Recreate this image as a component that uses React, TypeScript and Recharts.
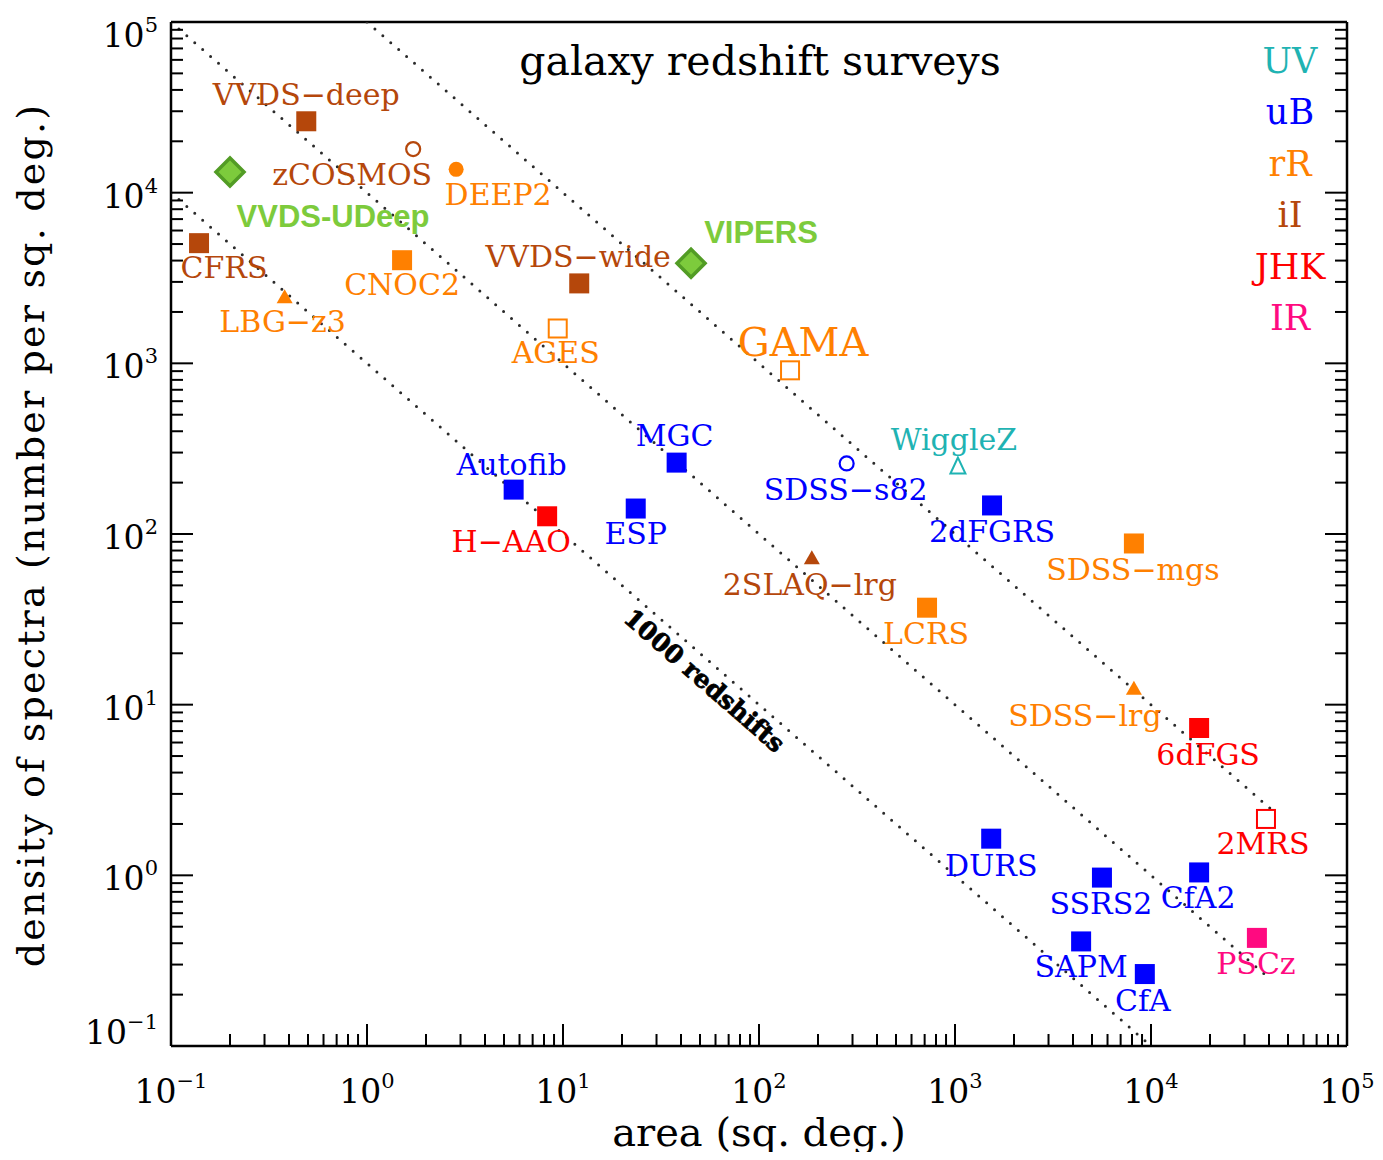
import React from 'react';
import { ScatterChart, Scatter, XAxis, YAxis } from 'recharts';

const SERIF = '"DejaVu Serif", serif';
const SANS = '"Liberation Sans", Arial, sans-serif';

// surveys: area (sq. deg.) and density (spectra per sq. deg.)
const surveyNames = [
  'VVDS−deep', 'zCOSMOS', 'DEEP2', 'VVDS-UDeep', 'CFRS', 'CNOC2', 'LBG−z3', 'VVDS−wide',
  'VIPERS', 'AGES', 'GAMA', 'MGC', 'Autofib', 'H−AAO', 'ESP', 'SDSS−s82', 'WiggleZ',
  '2dFGRS', 'SDSS−mgs', '2SLAQ−lrg', 'LCRS', 'SDSS−lrg', '6dFGS', '2MRS', 'DURS',
  'SSRS2', 'CfA2', 'SAPM', 'CfA', 'PSCz',
];
const surveyAreas = [
  0.49, 1.72, 2.85, 0.2, 0.139, 1.51, 0.38, 12.1,
  45, 9.4, 144, 38, 5.6, 8.3, 23.5, 280, 1035,
  1545, 8180, 186, 720, 8180, 17600, 38600, 1530,
  5620, 17600, 4400, 9300, 34700,
];
const surveyDensities = [
  26200, 18000, 13700, 13200, 5060, 4020, 2440, 2940,
  3860, 1600, 910, 262, 182, 127, 141, 259, 252,
  147, 88, 72, 37, 12.4, 7.3, 2.14, 1.64,
  0.97, 1.04, 0.41, 0.264, 0.43,
];
const surveyBands = [
  'iI', 'iI', 'rR', 'new', 'iI', 'rR', 'rR', 'iI',
  'new', 'rR', 'rR', 'uB', 'uB', 'JHK', 'uB', 'uB', 'UV',
  'uB', 'rR', 'iI', 'rR', 'rR', 'JHK', 'JHK', 'uB',
  'uB', 'uB', 'uB', 'uB', 'IR',
];
const surveyMarkers = [
  'square', 'openCircle', 'circle', 'diamond', 'square', 'square', 'triangle', 'square',
  'diamond', 'openSquare', 'openSquare', 'square', 'square', 'square', 'square', 'openCircle', 'openTriangle',
  'square', 'square', 'triangle', 'square', 'triangle', 'square', 'openSquare', 'square',
  'square', 'square', 'square', 'square', 'square',
];

// lines of constant number of redshifts (area x density)
const isoCounts = [1e3, 1e4, 1e5];
const isoFromArea = [0.1, 0.1, 1];
const isoToArea = [1e4, 41253, 41253];

const legendBands = ['UV', 'uB', 'rR', 'iI', 'JHK', 'IR'];
const bandColors: Record<string, string> = {
  UV: '#1FB3B3',
  uB: '#0000FF',
  rR: '#FF8000',
  iI: '#B5470B',
  JHK: '#FF0000',
  IR: '#FF0A80',
  new: '#7DCB3C',
};

const tickExps = [-1, 0, 1, 2, 3, 4, 5];
const tickMults = [1, 2, 3, 4, 5, 6, 7, 8, 9];
const logTicks = tickExps.flatMap((e) => (e < 5 ? tickMults.map((m) => m * 10 ** e) : [10 ** e]));

// where each name sits relative to its marker: [dx to text centre, dy to baseline]
const labelOffset: Record<string, [number, number]> = {
  'VVDS−deep': [0, -16], zCOSMOS: [-61, 36], DEEP2: [42, 36], 'VVDS-UDeep': [103, 55],
  CFRS: [25, 35], CNOC2: [0, 35], 'LBG−z3': [-2, 35], 'VVDS−wide': [-1, -16],
  VIPERS: [70, -20], AGES: [-2, 35], GAMA: [13, -14], MGC: [-2, -17], Autofib: [-2, -15],
  'H−AAO': [-36, 36], ESP: [0, 35], 'SDSS−s82': [-1, 37], WiggleZ: [-4, -15],
  '2dFGRS': [0, 37], 'SDSS−mgs': [-1, 37], '2SLAQ−lrg': [-2, 37], LCRS: [-1, 36],
  'SDSS−lrg': [-49, 37], '6dFGS': [9, 37], '2MRS': [-3, 35], DURS: [0, 37],
  SSRS2: [-1, 36], CfA2: [-1, 36], SAPM: [0, 36], CfA: [-2, 37], PSCz: [-1, 36],
};

const surveys = surveyNames.map((name, i) => ({
  name,
  area: surveyAreas[i],
  density: surveyDensities[i],
  band: surveyBands[i],
  marker: surveyMarkers[i],
}));

const isoLines = isoCounts.map((n, i) => [
  { area: isoFromArea[i], density: n / isoFromArea[i] },
  { area: isoToArea[i], density: n / isoToArea[i] },
]);

const groups = ['UV', 'uB', 'rR', 'iI', 'JHK', 'IR', 'new'];

const isDecade = (v: number) => Math.abs(Math.log10(v) - Math.round(Math.log10(v))) < 1e-6;
const expText = (v: number) => {
  const e = Math.round(Math.log10(v));
  return e < 0 ? `−${-e}` : `${e}`;
};
const MAJOR = 22;
const MINOR = 12;
const AXIS_W = 2.5;

function Power({ x, y, v, anchor }: any) {
  return (
    <text x={x} y={y} textAnchor={anchor} fontFamily={SERIF} fontSize={33} fill="#000">
      10
      <tspan dy={-15} fontSize={21}>{expText(v)}</tspan>
    </text>
  );
}

function BottomTick({ x, y, payload }: any) {
  const major = isDecade(payload.value);
  return (
    <g>
      <line x1={x} x2={x} y1={y} y2={y - (major ? MAJOR : MINOR)} stroke="#000" strokeWidth={2} />
      {major && <Power x={x} y={y + 57} v={payload.value} anchor="middle" />}
    </g>
  );
}

function TopTick({ x, y, payload }: any) {
  const major = isDecade(payload.value);
  return <line x1={x} x2={x} y1={y} y2={y + (major ? MAJOR : MINOR)} stroke="#000" strokeWidth={2} />;
}

function LeftTick({ x, y, payload }: any) {
  const v = payload.value;
  const major = isDecade(v);
  const e = Math.round(Math.log10(v));
  const base = e === 5 ? 25 : e === -1 ? -2 : 15;
  return (
    <g>
      <line x1={x} x2={x + (major ? MAJOR : MINOR)} y1={y} y2={y} stroke="#000" strokeWidth={2} />
      {major && <Power x={x - 13} y={y + base} v={v} anchor="end" />}
    </g>
  );
}

function RightTick({ x, y, payload }: any) {
  const major = isDecade(payload.value);
  return <line x1={x} x2={x - (major ? MAJOR : MINOR)} y1={y} y2={y} stroke="#000" strokeWidth={2} />;
}

function SurveyMark(props: any) {
  const { cx, cy, payload } = props;
  const c = bandColors[payload.band];
  const [dx, dy] = labelOffset[payload.name] || [0, 36];
  let mark: React.ReactNode = null;
  switch (payload.marker) {
    case 'square':
      mark = <rect x={cx - 10} y={cy - 10} width={20} height={20} fill={c} />;
      break;
    case 'openSquare':
      mark = <rect x={cx - 9} y={cy - 9} width={18} height={18} fill="none" stroke={c} strokeWidth={2} />;
      break;
    case 'circle':
      mark = <circle cx={cx} cy={cy} r={7.5} fill={c} />;
      break;
    case 'openCircle':
      mark = <circle cx={cx} cy={cy} r={7} fill="none" stroke={c} strokeWidth={2.2} />;
      break;
    case 'triangle':
      mark = <polygon points={`${cx},${cy - 8} ${cx - 8},${cy + 6} ${cx + 8},${cy + 6}`} fill={c} />;
      break;
    case 'openTriangle':
      mark = (
        <polygon
          points={`${cx},${cy - 8} ${cx - 7.5},${cy + 8} ${cx + 7.5},${cy + 8}`}
          fill="none"
          stroke={c}
          strokeWidth={2}
        />
      );
      break;
    case 'diamond':
      mark = (
        <polygon
          points={`${cx},${cy - 14} ${cx + 14},${cy} ${cx},${cy + 14} ${cx - 14},${cy}`}
          fill={c}
          stroke="#529C25"
          strokeWidth={3.5}
          strokeLinejoin="miter"
        />
      );
      break;
  }
  const isNew = payload.band === 'new';
  return (
    <g>
      {mark}
      <text
        x={cx + dx}
        y={cy + dy}
        textAnchor="middle"
        fill={c}
        fontFamily={isNew ? SANS : SERIF}
        fontWeight={isNew ? 'bold' : 'normal'}
        fontSize={isNew ? 31 : payload.name === 'GAMA' ? 40 : 30}
      >
        {payload.name}
      </text>
    </g>
  );
}

const NoDot = () => <g />;

export default function App() {
  return (
    <div style={{ height: 1144 }}>
      <ScatterChart width={1367} height={1152} margin={{ top: 13, right: 27, bottom: 0, left: 0 }}>
        <XAxis
          dataKey="area"
          type="number"
          scale="log"
          domain={[0.1, 1e5]}
          allowDataOverflow
          ticks={logTicks}
          interval={0}
          tickLine={false}
          tickSize={0}
          tickMargin={0}
          tick={BottomTick}
          height={114}
          axisLine={{ stroke: '#000', strokeWidth: AXIS_W }}
          label={{ value: 'area (sq. deg.)', position: 'insideBottom', offset: 14, fontFamily: SERIF, fontSize: 40, fill: '#000' }}
        />
        <XAxis
          xAxisId="top"
          orientation="top"
          type="number"
          scale="log"
          domain={[0.1, 1e5]}
          allowDataOverflow
          ticks={logTicks}
          interval={0}
          tickLine={false}
          tickSize={0}
          tickMargin={0}
          tick={TopTick}
          height={1}
          axisLine={{ stroke: '#000', strokeWidth: AXIS_W }}
        />
        <YAxis
          dataKey="density"
          type="number"
          scale="log"
          domain={[0.1, 1e5]}
          allowDataOverflow
          ticks={logTicks}
          interval={0}
          tickLine={false}
          tickSize={0}
          tickMargin={0}
          tick={LeftTick}
          width={163}
          axisLine={{ stroke: '#000', strokeWidth: AXIS_W }}
        />
        <YAxis
          yAxisId="right"
          orientation="right"
          type="number"
          scale="log"
          domain={[0.1, 1e5]}
          allowDataOverflow
          ticks={logTicks}
          interval={0}
          tickLine={false}
          tickSize={0}
          tickMargin={0}
          tick={RightTick}
          width={1}
          axisLine={{ stroke: '#000', strokeWidth: AXIS_W }}
        />

        {isoLines.map((pts, i) => (
          <Scatter
            key={`iso-${i}`}
            data={pts}
            shape={NoDot}
            line={{ stroke: '#2a2a2a', strokeWidth: 3, strokeDasharray: '0 10.5', strokeLinecap: 'round' }}
            isAnimationActive={false}
          />
        ))}

        {groups.map((g) => (
          <Scatter
            key={g}
            name={g}
            data={surveys.filter((s) => s.band === g)}
            fill={bandColors[g]}
            shape={SurveyMark}
            isAnimationActive={false}
          />
        ))}

        <text x={752} y={67} textAnchor="middle" fontFamily={SERIF} fontSize={41} fill="#000">
          galaxy redshift surveys
        </text>
        <text
          x={36}
          y={527}
          transform="rotate(-90, 36, 527)"
          textAnchor="middle"
          fontFamily={SERIF}
          fontSize={38}
          letterSpacing={2.2}
          fill="#000"
        >
          density of spectra (number per sq. deg.)
        </text>
        <text
          x={696}
          y={681}
          transform="rotate(41, 696, 673)"
          textAnchor="middle"
          fontFamily={SERIF}
          fontWeight="bold"
          fontSize={25}
          stroke="#000"
          strokeWidth={0.8}
          fill="#000"
        >
          1000 redshifts
        </text>
        {legendBands.map((b, i) => (
          <text
            key={b}
            x={1282}
            y={65 + i * 51.4}
            textAnchor="middle"
            fontFamily={SERIF}
            fontSize={35}
            fill={bandColors[b]}
          >
            {b}
          </text>
        ))}
      </ScatterChart>
    </div>
  );
}
